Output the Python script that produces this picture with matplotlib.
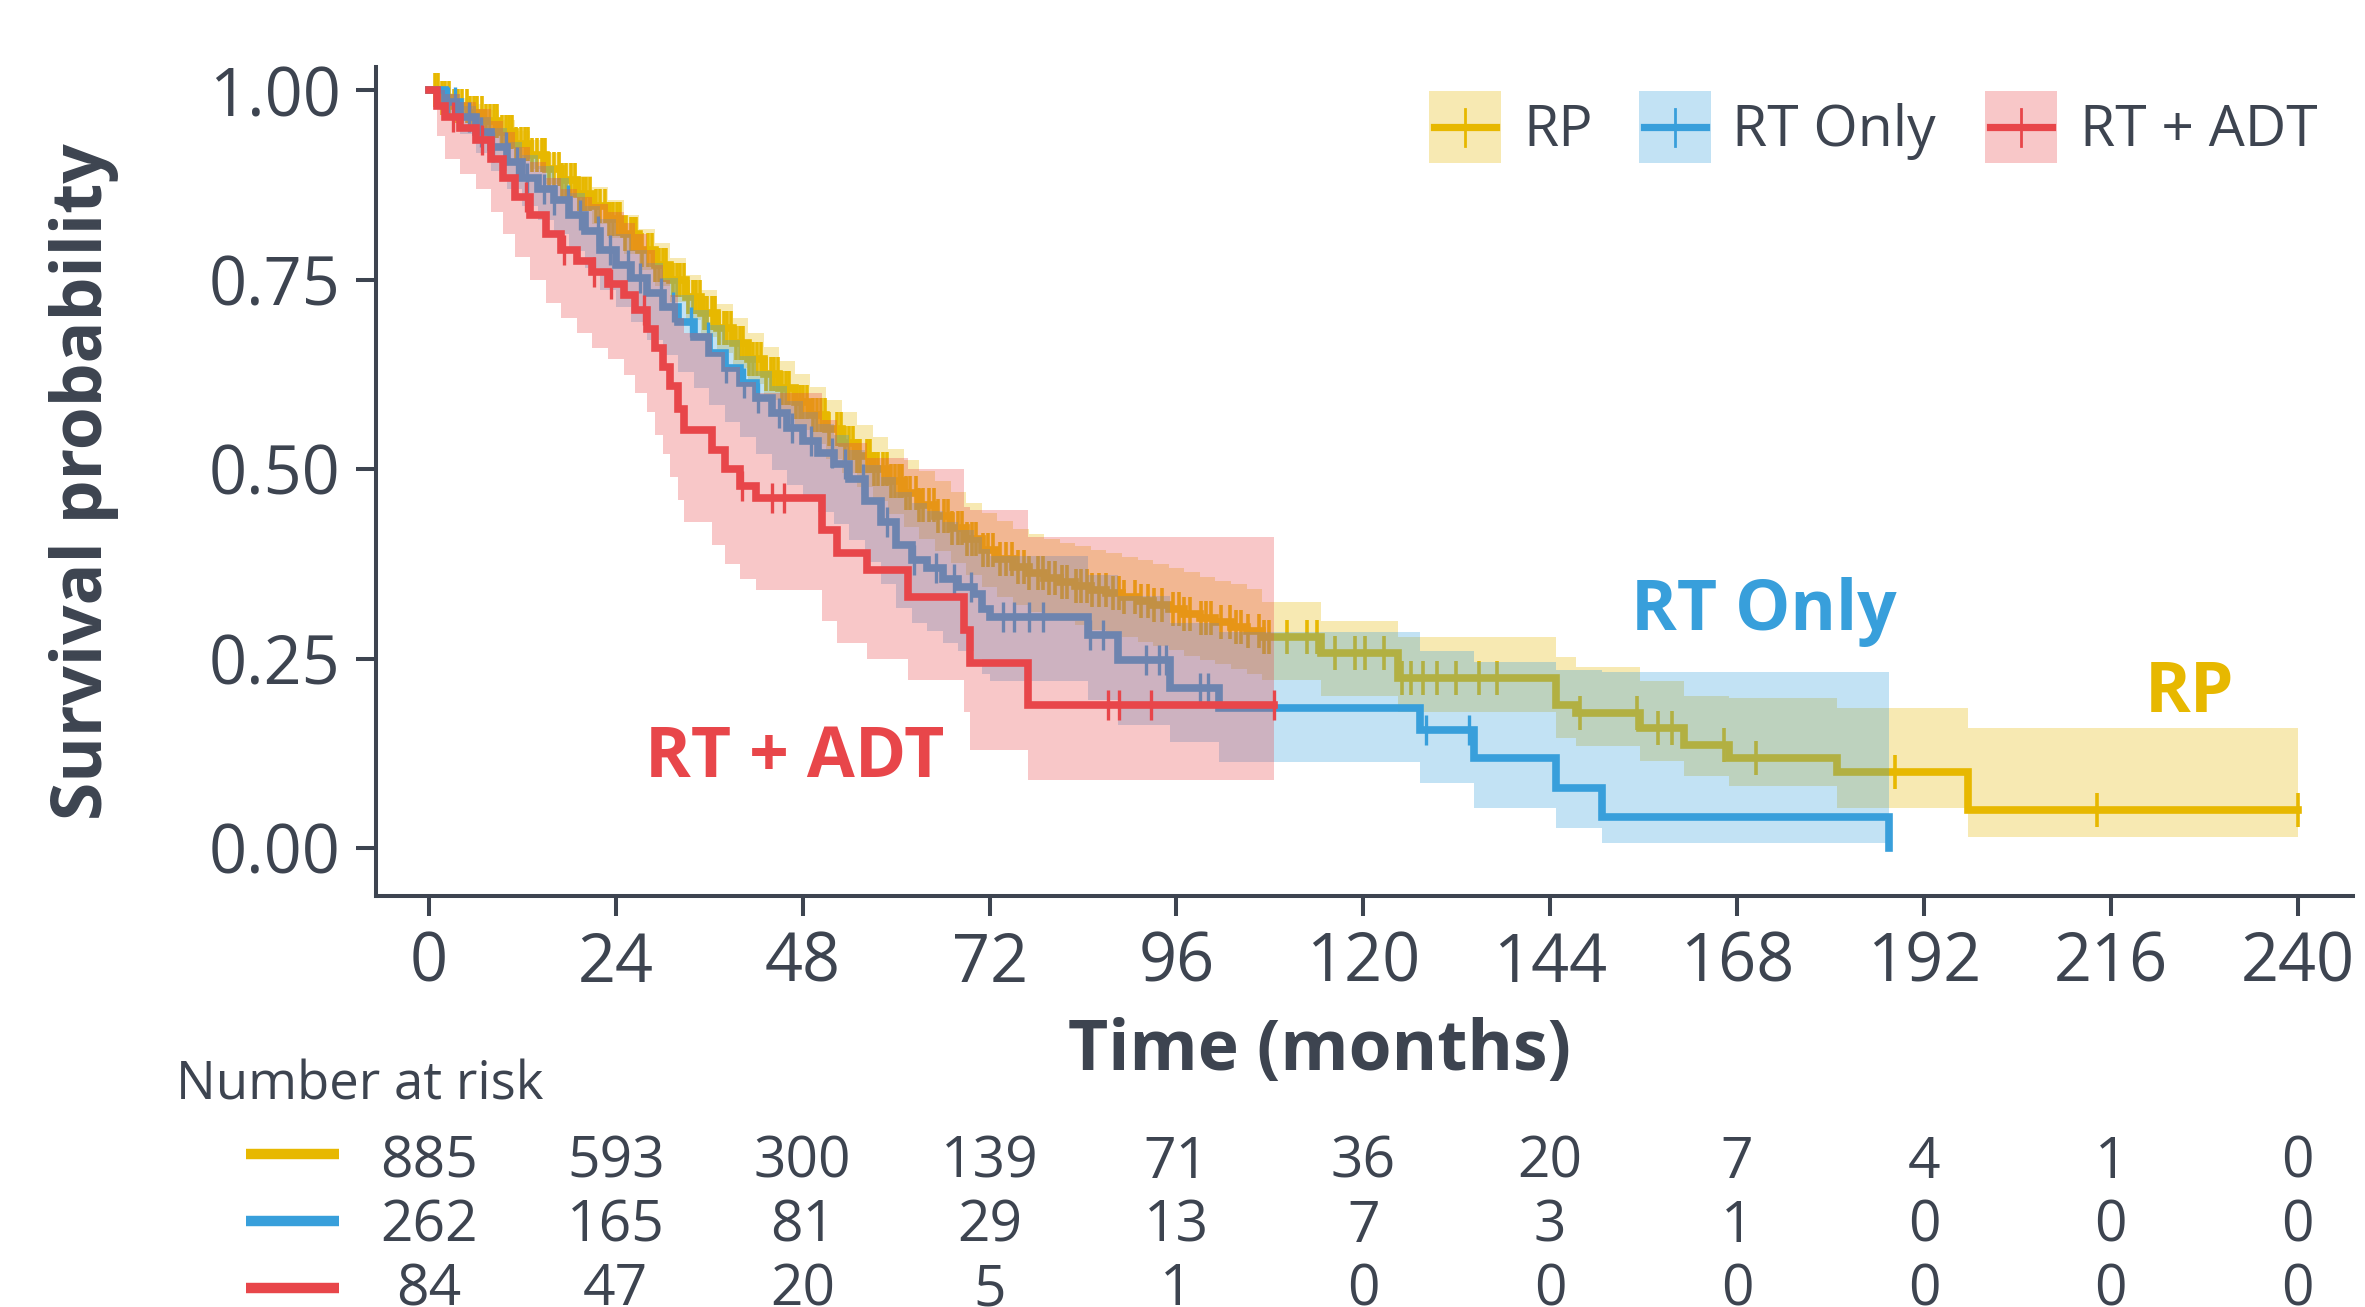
import numpy as np
import matplotlib
matplotlib.use("Agg")
import matplotlib.pyplot as plt
from matplotlib.patches import Rectangle
from matplotlib.lines import Line2D
from matplotlib.transforms import blended_transform_factory

plt.rcParams['font.family'] = ['Open Sans', 'DejaVu Sans']

# ---------------- data ----------------
groups = ["RP", "RT Only", "RT + ADT"]
colors = ["#E7B800", "#389FDB", "#E8464A"]

rp_time = [0, 1.5, 3, 5, 7, 9, 11, 13, 15, 17, 19, 21, 23, 25, 27, 29, 31, 33, 35, 37, 39,
           41, 43, 45, 47, 49, 51, 53, 55, 57, 59, 61, 63, 65, 67, 69, 71, 73, 75, 77, 79,
           81, 83, 85, 87, 89, 91, 93, 95, 97, 99, 101, 103, 105, 107, 114.5, 124.4, 144.8,
           147.3, 155.5, 161.2, 166.9, 180.8, 197.6, 240]
rp_surv = [1.0, 0.99, 0.98, 0.97, 0.96, 0.945, 0.93, 0.915, 0.897, 0.882, 0.864, 0.848, 0.83,
           0.81, 0.79, 0.77, 0.75, 0.727, 0.706, 0.686, 0.666, 0.646, 0.626, 0.607, 0.589,
           0.571, 0.553, 0.535, 0.517, 0.5, 0.484, 0.468, 0.453, 0.438, 0.423, 0.408, 0.393,
           0.381, 0.371, 0.363, 0.357, 0.351, 0.346, 0.341, 0.336, 0.331, 0.326, 0.321, 0.315,
           0.309, 0.303, 0.298, 0.292, 0.286, 0.278, 0.257, 0.224, 0.189, 0.178, 0.159, 0.136,
           0.119, 0.100, 0.050, 0.050]
rp_lower = [1.0, 0.983, 0.97, 0.958, 0.946, 0.929, 0.913, 0.896, 0.877, 0.86, 0.841, 0.824,
            0.805, 0.784, 0.763, 0.742, 0.721, 0.697, 0.675, 0.654, 0.633, 0.612, 0.591, 0.571,
            0.552, 0.533, 0.514, 0.495, 0.476, 0.458, 0.441, 0.424, 0.408, 0.392, 0.376, 0.36,
            0.344, 0.331, 0.321, 0.312, 0.306, 0.299, 0.294, 0.288, 0.283, 0.278, 0.272, 0.267,
            0.261, 0.254, 0.248, 0.243, 0.236, 0.23, 0.222, 0.20, 0.18, 0.145, 0.135, 0.115,
            0.095, 0.082, 0.053, 0.015, 0.015]
rp_upper = [1.0, 0.997, 0.99, 0.982, 0.974, 0.961, 0.947, 0.934, 0.917, 0.904, 0.887, 0.872,
            0.855, 0.836, 0.817, 0.798, 0.779, 0.757, 0.737, 0.718, 0.699, 0.68, 0.661, 0.643,
            0.626, 0.609, 0.592, 0.575, 0.558, 0.542, 0.527, 0.512, 0.498, 0.484, 0.47, 0.456,
            0.442, 0.431, 0.421, 0.414, 0.408, 0.403, 0.398, 0.394, 0.389, 0.384, 0.38, 0.375,
            0.369, 0.364, 0.358, 0.353, 0.348, 0.342, 0.325, 0.30, 0.279, 0.252, 0.239, 0.22,
            0.20, 0.198, 0.185, 0.158, 0.158]
rp_censor = [0.8, 1.2, 1.7, 2.1, 2.6, 3.2, 3.7, 4.3, 4.9, 5.3, 5.8, 6.2, 6.8, 7.3, 7.8, 8.3,
             8.8, 9.4, 9.9, 10.3, 10.7, 11.2, 11.8, 12.3, 12.7, 13.2, 13.9, 14.5, 14.9, 15.4,
             16.1, 16.7, 17.1, 17.6, 18.2, 18.8, 19.3, 19.8, 20.2, 20.7, 21.5, 22.0, 22.6, 23.1,
             23.7, 24.1, 24.5, 25.2, 25.9, 26.3, 26.6, 27.4, 28.1, 28.6, 29.0, 29.6, 30.1, 30.5,
             31.3, 31.8, 32.3, 32.8, 33.3, 33.9, 34.3, 34.8, 35.3, 35.7, 36.4, 36.8, 37.2, 37.9,
             38.3, 38.8, 39.4, 39.9, 40.3, 41.1, 41.6, 42.1, 42.6, 43.3, 43.9, 44.3, 44.8, 45.4,
             45.9, 46.3, 47.1, 47.6, 48.1, 48.6, 49.3, 49.9, 50.4, 50.9, 51.4, 52.4, 52.9, 53.4,
             53.9, 54.5, 55.0, 55.4, 56.2, 56.7, 57.2, 57.7, 58.3, 58.8, 59.3, 59.9, 60.4, 60.8,
             61.3, 61.8, 62.5, 63.0, 63.5, 64.2, 64.8, 65.4, 66.1, 66.6, 67.2, 67.9, 68.4, 69.1,
             69.7, 70.3, 71.2, 71.8, 72.5, 73.3, 74.1, 74.9, 75.7, 76.4, 77.1, 78.2, 78.9, 79.6,
             80.4, 81.3, 82.0, 83.1, 83.8, 84.5, 85.2, 86.1, 86.9, 87.8, 88.6, 89.3, 90.7, 91.5,
             92.4, 93.1, 94.2, 95.6, 96.3, 97.0, 97.8, 99.1, 99.8, 100.4, 101.7, 102.9, 103.6,
             104.3, 105.2, 106.6, 107.2, 107.9, 110.2, 112.8, 114.0, 116.3, 118.9, 120.2, 122.7,
             125.0, 126.1, 127.6, 129.5, 131.9, 134.8, 137.2, 147.8, 155.2, 157.9, 159.6, 166.3,
             170.4, 188.3, 214.2, 240.0]

rt_time = [0, 2, 4, 6, 8, 10, 12, 14, 16, 18, 20, 22, 24, 26, 28, 30, 32, 34, 36, 38, 40, 42,
           44, 46, 48, 50, 52, 54, 56, 58, 60, 62, 64, 66, 68, 70, 71, 72, 84.7, 88.5, 95.2,
           101.4, 127.3, 134.2, 144.8, 150.6, 187.5]
rt_surv = [1.0, 0.985, 0.965, 0.945, 0.925, 0.905, 0.885, 0.87, 0.855, 0.835, 0.815, 0.79,
           0.77, 0.752, 0.732, 0.714, 0.694, 0.674, 0.654, 0.634, 0.614, 0.594, 0.574, 0.555,
           0.537, 0.522, 0.507, 0.487, 0.458, 0.43, 0.40, 0.38, 0.37, 0.355, 0.345, 0.335,
           0.315, 0.305, 0.281, 0.248, 0.211, 0.185, 0.156, 0.119, 0.079, 0.041, 0.0]
rt_lower = [1.0, 0.97, 0.943, 0.918, 0.894, 0.87, 0.847, 0.829, 0.811, 0.788, 0.765, 0.737,
            0.714, 0.694, 0.671, 0.651, 0.629, 0.607, 0.585, 0.563, 0.542, 0.52, 0.499, 0.479,
            0.46, 0.444, 0.428, 0.407, 0.377, 0.348, 0.317, 0.297, 0.286, 0.271, 0.26, 0.25,
            0.23, 0.22, 0.195, 0.163, 0.14, 0.114, 0.086, 0.053, 0.026, 0.007, 0.007]
rt_upper = [1.0, 0.995, 0.98, 0.965, 0.95, 0.932, 0.915, 0.90, 0.885, 0.865, 0.848, 0.83,
            0.81, 0.79, 0.772, 0.752, 0.73, 0.71, 0.69, 0.67, 0.65, 0.63, 0.61, 0.59, 0.575,
            0.56, 0.545, 0.525, 0.505, 0.49, 0.47, 0.455, 0.445, 0.43, 0.42, 0.41, 0.395,
            0.385, 0.36, 0.333, 0.297, 0.285, 0.26, 0.245, 0.235, 0.232, 0.232]
rt_censor = [2.5, 3.4, 5.1, 6.7, 8.2, 9.9, 11.3, 12.6, 14.8, 16.1, 17.9, 19.4, 21.7, 23.2, 25.6,
             27.1, 29.8, 31.4, 33.6, 35.9, 38.2, 40.5, 42.3, 44.9, 46.6, 49.1, 51.8, 53.4, 55.7,
             58.8, 62.3, 65.1, 67.4, 69.6, 73.7, 75.2, 77.0, 78.9, 84.9, 86.6, 92.1, 93.7, 94.6,
             99.0, 100.0, 128.0, 133.6]

ra_time = [0, 1, 2, 4, 6, 8, 9.5, 11, 13, 15, 17, 19, 21, 23, 25, 26.5, 28, 29, 30, 31, 32,
           32.7, 36.3, 38, 40, 42, 50.5, 52.4, 56.3, 61.5, 68.7, 69.5, 76.9, 108.5]
ra_surv = [1.0, 0.98, 0.965, 0.95, 0.935, 0.91, 0.885, 0.86, 0.835, 0.81, 0.79, 0.775, 0.76,
           0.745, 0.73, 0.71, 0.685, 0.66, 0.635, 0.61, 0.58, 0.552, 0.525, 0.50, 0.478, 0.462,
           0.42, 0.39, 0.367, 0.331, 0.288, 0.244, 0.189, 0.189]
ra_lower = [1.0, 0.94, 0.91, 0.89, 0.87, 0.84, 0.81, 0.78, 0.75, 0.72, 0.70, 0.68, 0.66, 0.645,
            0.625, 0.60, 0.575, 0.545, 0.52, 0.49, 0.46, 0.43, 0.40, 0.375, 0.355, 0.34, 0.30,
            0.27, 0.25, 0.222, 0.18, 0.13, 0.09, 0.09]
ra_upper = [1.0, 1.0, 0.995, 0.985, 0.975, 0.96, 0.945, 0.925, 0.905, 0.885, 0.87, 0.86, 0.85,
            0.84, 0.825, 0.81, 0.79, 0.77, 0.75, 0.73, 0.70, 0.68, 0.655, 0.635, 0.615, 0.60,
            0.565, 0.535, 0.515, 0.50, 0.45, 0.446, 0.41, 0.41]
ra_censor = [3.1, 6.8, 12.4, 17.3, 21.2, 23.4, 27.6, 40.2, 44.1, 45.6, 87.2, 88.6, 92.7, 108.5]

risk_times = [0, 24, 48, 72, 96, 120, 144, 168, 192, 216, 240]
risk_rp = [885, 593, 300, 139, 71, 36, 20, 7, 4, 1, 0]
risk_rt = [262, 165, 81, 29, 13, 7, 3, 1, 0, 0, 0]
risk_ra = [84, 47, 20, 5, 1, 0, 0, 0, 0, 0, 0]

yticks = [0.00, 0.25, 0.50, 0.75, 1.00]
ytick_labels = ["0.00", "0.25", "0.50", "0.75", "1.00"]

# ---------------- figure ----------------
W, H = 2365, 1307
fig = plt.figure(figsize=(W / 100, H / 100), dpi=100)
TXT = "#3D4450"

def fx(px):
    return px / W

def fy(py):
    return 1 - py / H

ax = fig.add_axes([fx(376), fy(896), fx(2353) - fx(376), fy(67) - fy(896)])
ax.set_xlim(-6.8, 247.1)
ax.set_ylim(-0.0634, 1.031)
for s in ["top", "right"]:
    ax.spines[s].set_visible(False)
for s in ["left", "bottom"]:
    ax.spines[s].set_linewidth(2.9)
    ax.spines[s].set_color(TXT)
ax.set_xticks(risk_times)
ax.set_xticklabels([str(t) for t in risk_times])
ax.set_yticks(yticks)
ax.set_yticklabels(ytick_labels)
ax.tick_params(axis="both", length=14.5, width=2.9, color=TXT, labelcolor=TXT, labelsize=48)
ax.tick_params(axis="x", pad=10)
ax.tick_params(axis="y", pad=11)

series = [
    (rp_time, rp_surv, rp_lower, rp_upper, rp_censor, 24, 2.6),
    (rt_time, rt_surv, rt_lower, rt_upper, rt_censor, 22, 2.4),
    (ra_time, ra_surv, ra_lower, ra_upper, ra_censor, 22, 2.4),
]
z = 2
for (t, s, lo, hi, cens, ms, mew), col in zip(series, colors):
    t = np.asarray(t, float)
    s = np.asarray(s, float)
    ax.fill_between(t, lo, hi, step="post", color=col, alpha=0.3, lw=0, zorder=z)
    ax.step(t, s, where="post", color=col, lw=5.5, zorder=z + 0.1, solid_joinstyle="miter")
    c = np.asarray(cens, float)
    idx = np.searchsorted(t, c, side="right") - 1
    ax.plot(c, s[idx], ls="none", marker="|", ms=ms, mew=mew, color=col, zorder=z + 0.2)
    z += 1

# in-plot labels
ax.text(47.0, 0.094, "RT + ADT", color=colors[2], fontsize=50, fontweight="bold",
        ha="center", va="baseline", zorder=10)
ax.text(171.4, 0.288, "RT Only", color=colors[1], fontsize=50, fontweight="bold",
        ha="center", va="baseline", zorder=10)
ax.text(226.1, 0.180, "RP", color=colors[0], fontsize=50, fontweight="bold",
        ha="center", va="baseline", zorder=10)

# axis titles
fig.text(fx(84), fy(482), "Survival probability", rotation=90, ha="center", va="center",
         fontsize=50, fontweight="bold", color=TXT)
fig.text(fx(1320), fy(1070), "Time (months)", ha="center", va="baseline",
         fontsize=50, fontweight="bold", color=TXT)

# legend (manual)
leg_boxes = [1429, 1639, 1985]
leg_text_x = [1523, 1732, 2080]
for name, col, bx, tx in zip(groups, colors, leg_boxes, leg_text_x):
    fig.patches.append(Rectangle((fx(bx), fy(163)), fx(72), fy(91) - fy(163),
                                 transform=fig.transFigure, facecolor=col, alpha=0.3, lw=0))
    fig.lines.append(Line2D([fx(bx + 5), fx(bx + 67)], [fy(127), fy(127)],
                            transform=fig.transFigure, color=col, lw=5.2))
    fig.lines.append(Line2D([fx(bx + 36), fx(bx + 36)], [fy(109), fy(146)],
                            transform=fig.transFigure, color=col, lw=2.0))
    fig.text(fx(tx), fy(146), name, ha="left", va="baseline", fontsize=41, color=TXT)

# number at risk table
fig.text(fx(176), fy(1100), "Number at risk", ha="left", va="baseline", fontsize=38, color=TXT)
trans = blended_transform_factory(ax.transData, fig.transFigure)
row_base = [1178, 1242, 1305]
row_mid = [1154, 1221, 1288]
for vals, col, yb, ym in zip([risk_rp, risk_rt, risk_ra], colors, row_base, row_mid):
    fig.lines.append(Line2D([fx(246), fx(339)], [fy(ym), fy(ym)], transform=fig.transFigure,
                            color=col, lw=7.5, solid_capstyle="butt"))
    for tt, v in zip(risk_times, vals):
        ax.text(tt, fy(yb), str(v), transform=trans, ha="center", va="baseline",
                fontsize=41, color=TXT, clip_on=False)

fig.savefig("out.png", dpi=100)
